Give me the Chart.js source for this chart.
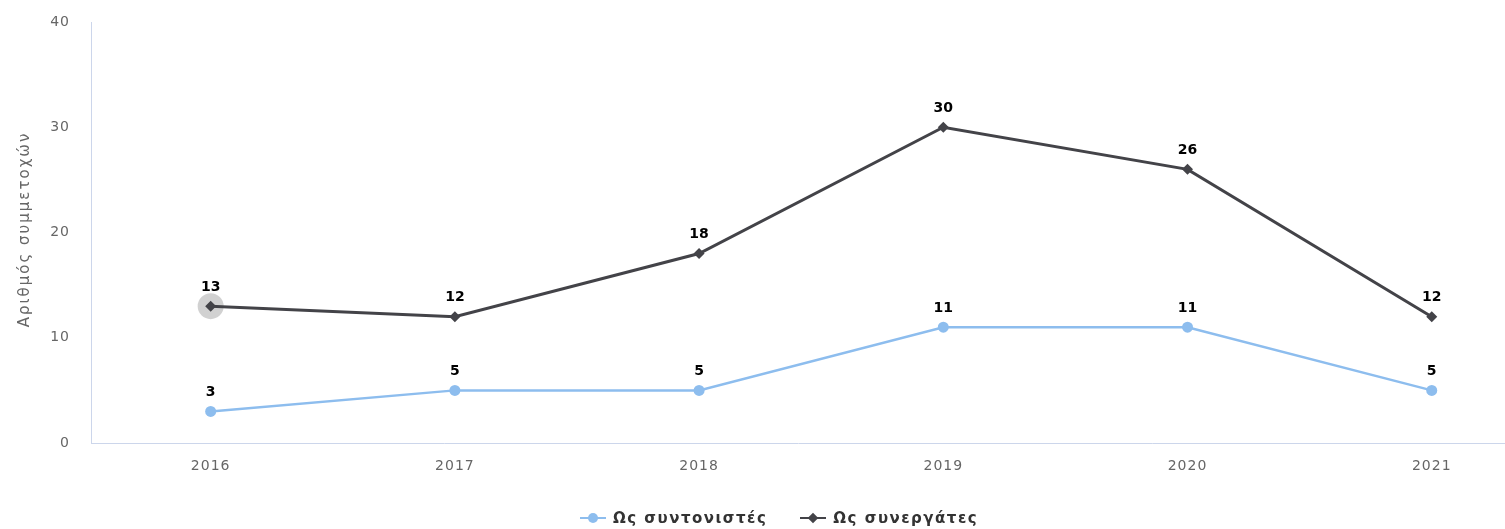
<!DOCTYPE html>
<html>
<head>
<meta charset="utf-8">
<script src="https://cdn.jsdelivr.net/npm/chart.js@4"></script>
<style>
  html, body { margin: 0; padding: 0; background: #fff; }
  #wrap { position: relative; width: 1505px; height: 529px; overflow: hidden; }
  #legend {
    position: absolute; left: 580px; top: 508px;
    display: flex; gap: 33px; white-space: nowrap;
    font: bold 15px "DejaVu Sans", sans-serif; color: #333; letter-spacing: 1.5px;
  }
  .item { display: flex; align-items: center; }
  .sym { position: relative; width: 26px; height: 20px; margin-right: 7px; }
  .sym .ln { position: absolute; left: 0; right: 0; top: 9px; height: 2px; }
  .sym .mk { position: absolute; left: 8px; top: 5px; width: 10px; height: 10px; }
</style>
</head>
<body>
<div id="wrap">
  <canvas id="c" width="1505" height="529"></canvas>
  <div id="legend"></div>
</div>
<script>
/* ── Συμμετοχές ανά έτος ── */

const YEARS = [2016, 2017, 2018, 2019, 2020, 2021];
const COORD = [3, 5, 5, 11, 11, 5];       // Ως συντονιστές
const PARTNER = [13, 12, 18, 30, 26, 12]; // Ως συνεργάτες
const Y_TICKS = [0, 10, 20, 30, 40];
const SERIES_NAMES = ['Ως συντονιστές', 'Ως συνεργάτες'];
const Y_TITLE = 'Αριθμός συμμετοχών';

const LIGHT = '#8dbdee';
const DARK = '#434348';
const AXIS = '#ccd6eb';

Chart.defaults.font.family = "'DejaVu Sans', sans-serif";
Chart.defaults.color = '#666';

// the reference text is a little spaced out
const spacing = {
  id: 'spacing',
  beforeLayout(chart) { chart.ctx.letterSpacing = '1px'; },
  beforeDraw(chart) { chart.ctx.letterSpacing = '1px'; },
};

// rotated axis title, value labels, and the grey hover halo on the first dark point
const labelsPlugin = {
  id: 'pointLabels',
  beforeDatasetsDraw(chart) {
    const ctx = chart.ctx;
    const pt = chart.getDatasetMeta(1).data[0];
    ctx.save();
    ctx.fillStyle = 'rgba(0,0,0,0.18)';
    ctx.beginPath();
    ctx.arc(pt.x, pt.y, 13, 0, Math.PI * 2);
    ctx.fill();
    ctx.restore();

    const area = chart.chartArea;
    ctx.save();
    ctx.letterSpacing = '2px';
    ctx.translate(25, (area.top + area.bottom) / 2 - 3);
    ctx.rotate(-Math.PI / 2);
    ctx.font = "15px 'DejaVu Sans', sans-serif";
    ctx.fillStyle = '#666';
    ctx.textAlign = 'center';
    ctx.textBaseline = 'middle';
    ctx.fillText(Y_TITLE, 0, 0);
    ctx.restore();
  },
  afterDatasetsDraw(chart) {
    const ctx = chart.ctx;
    ctx.save();
    ctx.letterSpacing = '0px';
    ctx.font = "bold 14px 'DejaVu Sans', sans-serif";
    ctx.textAlign = 'center';
    ctx.textBaseline = 'middle';
    ctx.lineJoin = 'round';
    chart.data.datasets.forEach((ds, i) => {
      chart.getDatasetMeta(i).data.forEach((p, j) => {
        const txt = String(ds.data[j].y);
        ctx.strokeStyle = '#fff';
        ctx.lineWidth = 3;
        ctx.strokeText(txt, p.x, p.y - 19);
        ctx.fillStyle = '#000';
        ctx.fillText(txt, p.x, p.y - 19);
      });
    });
    ctx.restore();
  },
};

new Chart(document.getElementById('c'), {
  type: 'line',
  data: {
    datasets: [
      {
        label: SERIES_NAMES[0],
        data: YEARS.map((y, i) => ({ x: y, y: COORD[i] })),
        borderColor: LIGHT, backgroundColor: LIGHT,
        borderWidth: 2.5, pointRadius: 5.5, pointStyle: 'circle',
        pointBorderWidth: 0, tension: 0,
      },
      {
        label: SERIES_NAMES[1],
        data: YEARS.map((y, i) => ({ x: y, y: PARTNER[i] })),
        borderColor: DARK, backgroundColor: DARK,
        borderWidth: 3, pointRadius: 5.5, pointStyle: 'rectRot',
        pointBorderWidth: 0, tension: 0,
      },
    ],
  },
  options: {
    responsive: false,
    animation: false,
    events: [],
    layout: { autoPadding: false, padding: { top: 22, left: 0, right: 0, bottom: 0 } },
    plugins: { legend: { display: false }, tooltip: { enabled: false } },
    scales: {
      x: {
        type: 'linear',
        min: 2015.51, max: 2021.3,
        afterBuildTicks: s => { s.ticks = YEARS.map(v => ({ value: v })); },
        afterFit: s => { s.height = 86; s.paddingLeft = 0; s.paddingRight = 0; },
        grid: { display: false, drawTicks: false },
        border: { color: AXIS, width: 1 },
        ticks: { padding: 15, font: { size: 14 }, color: '#666', callback: v => String(v) },
      },
      y: {
        min: 0, max: 40,
        afterBuildTicks: s => { s.ticks = Y_TICKS.map(v => ({ value: v })); },
        afterFit: s => { s.width = 91; s.paddingTop = 0; s.paddingBottom = 0; },
        grid: { display: false, drawTicks: false },
        border: { color: AXIS, width: 1 },
        ticks: { padding: 21, font: { size: 14 }, color: '#666' },
      },
    },
  },
  plugins: [spacing, labelsPlugin],
});

// legend in the Highcharts look: line + marker, bold name
const legend = document.getElementById('legend');
[[LIGHT, '50%'], [DARK, '0']].forEach(([col, rad], i) => {
  const item = document.createElement('div');
  item.className = 'item';
  const rot = rad === '0' ? 'transform: rotate(45deg) scale(0.75);' : '';
  item.innerHTML =
    `<span class="sym"><span class="ln" style="background:${col}"></span>` +
    `<span class="mk" style="background:${col};border-radius:${rad};${rot}"></span></span>` +
    `<span>${SERIES_NAMES[i]}</span>`;
  legend.appendChild(item);
});
</script>
</body>
</html>
